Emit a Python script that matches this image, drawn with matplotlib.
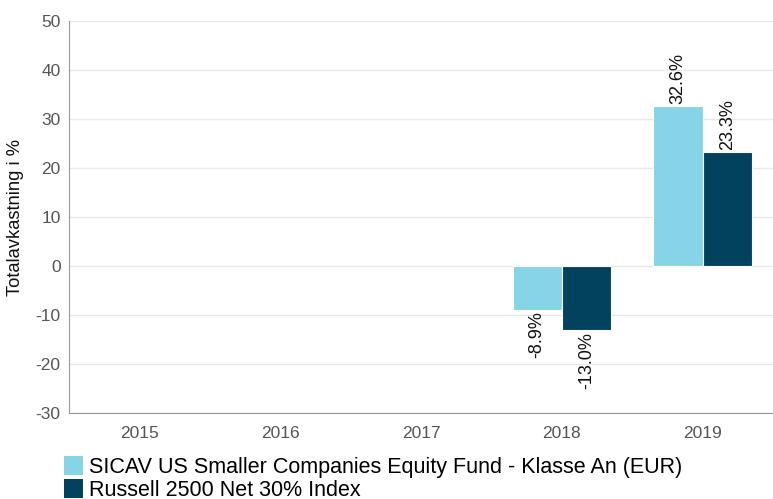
import numpy as np
import matplotlib.pyplot as plt
from matplotlib.patches import Patch

plt.rcParams['font.family'] = ['Liberation Sans', 'DejaVu Sans']
plt.rcParams['axes.unicode_minus'] = False

years = ['2015', '2016', '2017', '2018', '2019']
fund = [np.nan, np.nan, np.nan, -8.9, 32.6]
index = [np.nan, np.nan, np.nan, -13.0, 23.3]
names = ['SICAV US Smaller Companies Equity Fund - Klasse An (EUR)',
         'Russell 2500 Net 30% Index']
colors = ['#85d5e6', '#02425f']

fig = plt.figure(figsize=(7.73, 4.99), dpi=100)
ax = fig.add_axes([69/773, 1-413/499, 704/773, 392/499])

x = np.arange(len(years))
w = 0.35
for vals, off, col in [(fund, -w/2, colors[0]), (index, w/2, colors[1])]:
    bars = ax.bar(x + off, vals, w, color=col, edgecolor='white', linewidth=0.8, zorder=3)
    for xi, v in zip(x, vals):
        if np.isnan(v):
            continue
        ax.text(xi + off, v + (0.4 if v > 0 else -0.4), f'{v:.1f}%', rotation=90,
                ha='center', va='bottom' if v > 0 else 'top', fontsize=13, color='#111111')

ax.set_xlim(-0.5, 4.5)
ax.set_ylim(-30, 50)
ax.set_yticks(range(-30, 51, 10))
ax.set_xticks(x)
ax.set_xticklabels(years)
ax.grid(axis='y', color='#e8e8e8', linewidth=1, zorder=0)
for s in ['top', 'right']:
    ax.spines[s].set_visible(False)
ax.spines['bottom'].set_color('#999999')
ax.spines['left'].set_color('#999999')
ax.tick_params(axis='both', length=0, labelsize=12.5, colors='#555555')
ax.tick_params(axis='y', pad=6)
ax.tick_params(axis='x', pad=9)
ax.set_ylabel('Totalavkastning i %', fontsize=13.2, color='#111111')
ax.yaxis.set_label_coords(-45/704, 0.5)

handles = [Patch(facecolor=c) for c in colors]
fig.legend(handles, names, loc='upper left', bbox_to_anchor=(55/773, 1-447/499),
           frameon=False, fontsize=15.5, handlelength=0.9, handleheight=1.0,
           handletextpad=0.3, labelspacing=0.05, borderaxespad=0)

fig.savefig('out.png', dpi=100)
